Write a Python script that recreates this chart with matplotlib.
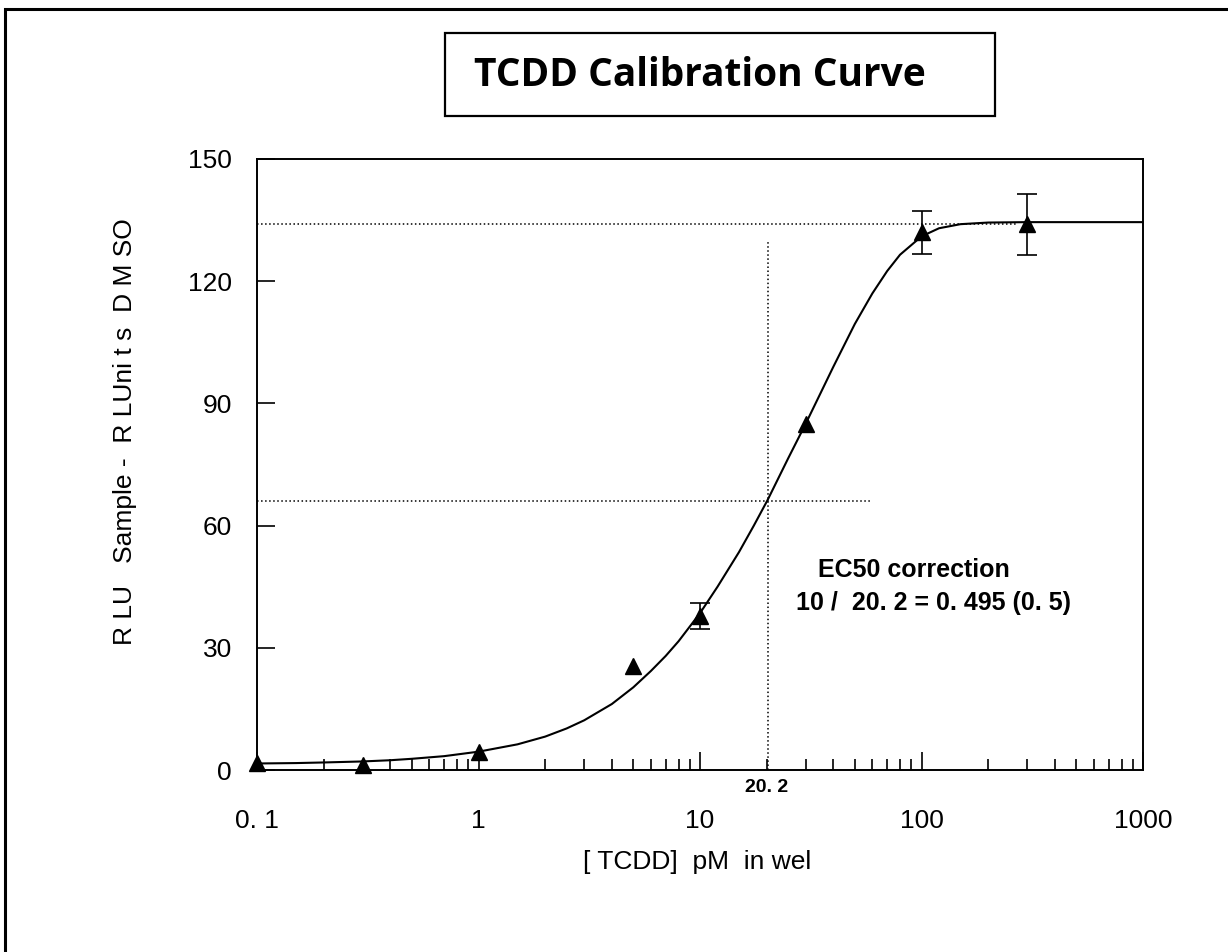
import matplotlib
matplotlib.use("Agg")
import matplotlib.pyplot as plt
from matplotlib.patches import Rectangle
from matplotlib.ticker import LogLocator, FixedLocator, NullFormatter

# ---- data ----
conc = [0.1, 0.3, 1, 5, 10, 30, 100, 300]
rlu = [1.7, 1.3, 4.5, 25.5, 37.8, 85.0, 132.0, 134.0]
rlu_err = [0, 0, 0, 0, 3.3, 0, 5.3, 7.5]

fit_x = [0.1, 0.15, 0.2, 0.3, 0.4, 0.5, 0.7, 1, 1.5, 2, 2.5, 3, 4, 5, 6, 7, 8,
         10, 12, 15, 17.5, 20.2, 25, 30, 35, 40, 50, 60, 70, 80, 100, 120, 150,
         200, 300, 1000]
fit_y = [1.6, 1.7, 1.85, 2.1, 2.4, 2.75, 3.4, 4.5, 6.3, 8.2, 10.2, 12.2, 16.2,
         20.3, 24.3, 28.0, 31.6, 38.5, 45.0, 53.5, 60.0, 66.3, 76.5, 85.0, 92.5,
         99.0, 109.5, 117.0, 122.5, 126.5, 131.0, 133.0, 134.0, 134.4, 134.5,
         134.5]

ec50 = 20.2
top_level = 134.0
half_level = 66.0
vline_top = 130.0
half_line_end = 60
top_line_end = 270

x_ticks = [0.1, 1, 10, 100, 1000]
x_ticklabels = ["0. 1", "1", "10", "100", "1000"]
y_ticks = [0, 30, 60, 90, 120, 150]

title = "TCDD Calibration Curve"
xlabel = "[ TCDD]  pM  in wel"
ylabel = "R LU   Sample -  R LUni t s  D M SO"
note1 = "EC50 correction"
note2 = "10 /  20. 2 = 0. 495 (0. 5)"

W, H = 1228, 952
fig = plt.figure(figsize=(W / 100, H / 100), dpi=100)
font = ["Liberation Sans", "DejaVu Sans"]

ax = fig.add_axes([257 / W, 1 - 770 / H, (1143 - 257) / W, (770 - 159) / H])
ax.set_xscale("log")
ax.set_xlim(0.1, 1000)
ax.set_ylim(0, 150)

ax.plot(fit_x, fit_y, color="black", lw=1.5, zorder=3)
ax.plot(conc, rlu, "^", color="black", ms=12, zorder=4, clip_on=False)
ex = [c for c, e in zip(conc, rlu_err) if e > 0]
ey = [r for r, e in zip(rlu, rlu_err) if e > 0]
ee = [e for e in rlu_err if e > 0]
ax.errorbar(ex, ey, yerr=ee, fmt="none", ecolor="black", elinewidth=1.2,
            capsize=7, capthick=1.2, zorder=4)

ax.hlines(top_level, 0.1, top_line_end, colors="black", linestyles=":", lw=1.1, zorder=2)
ax.hlines(half_level, 0.1, half_line_end, colors="black", linestyles=":", lw=1.1, zorder=2)
ax.vlines(ec50, 0, vline_top, colors="black", linestyles=":", lw=1.1, zorder=2)

ax.xaxis.set_major_locator(FixedLocator(x_ticks))
ax.set_xticklabels(x_ticklabels)
ax.xaxis.set_minor_locator(LogLocator(base=10, subs=range(2, 10)))
ax.xaxis.set_minor_formatter(NullFormatter())
ax.set_yticks(y_ticks)

ax.tick_params(axis="both", which="major", direction="in", length=13, width=1.2,
               labelsize=19)
ax.tick_params(axis="x", which="major", pad=28)
ax.tick_params(axis="x", which="minor", direction="in", length=8, width=1.2)
ax.tick_params(axis="y", which="major", pad=18)
for lab in ax.get_xticklabels() + ax.get_yticklabels():
    lab.set_family(font)
for s in ax.spines.values():
    s.set_linewidth(1.4)

fig.text(767 / W, 1 - 788 / H, "20. 2", ha="center", va="center",
         fontsize=14, fontweight="bold", family=font)
fig.text(697 / W, 1 - 862 / H, xlabel, ha="center", va="center",
         fontsize=19, family=font)
fig.text(125 / W, 1 - 432 / H, ylabel, ha="center", va="center",
         rotation=90, fontsize=19, family=font)
fig.text(914 / W, 1 - 570 / H, note1, ha="center", va="center",
         fontsize=18, fontweight="bold", family=font)
fig.text(934 / W, 1 - 603 / H, note2, ha="center", va="center",
         fontsize=18, fontweight="bold", family=font)

# title box
fig.patches.append(Rectangle((445 / W, 1 - 116 / H), (995 - 445) / W, (116 - 33) / H,
                             transform=fig.transFigure, fill=False, ec="black", lw=1.6))
fig.text(700 / W, 1 - 75 / H, title, ha="center", va="center",
         fontsize=28, fontweight="bold", family=["Open Sans", "DejaVu Sans"])

# outer frame (extends past right and bottom edges)
fig.patches.append(Rectangle((5 / W, -0.05), 1.2, 1 - 9 / H + 0.05,
                             transform=fig.transFigure, fill=False, ec="black", lw=2.2))

fig.savefig("out.png", dpi=100)
